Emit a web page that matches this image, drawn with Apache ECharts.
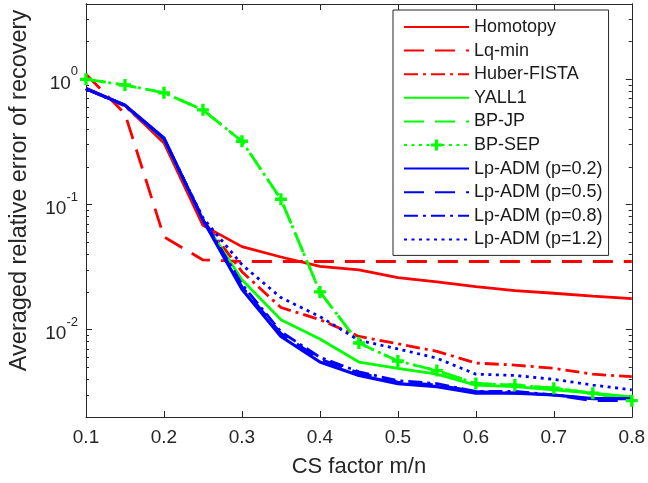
<!DOCTYPE html>
<html>
<head>
<meta charset="utf-8">
<script src="https://cdn.jsdelivr.net/npm/echarts@6/dist/echarts.min.js"></script>
<style>
  html, body { margin: 0; padding: 0; background: #fff; }
  #chart { width: 648px; height: 483px; }
</style>
</head>
<body>
<div id="chart"></div>
<script>
// ---- data ----
const xs = [0.1, 0.15, 0.2, 0.25, 0.3, 0.35, 0.4, 0.45, 0.5, 0.55, 0.6, 0.65, 0.7, 0.75, 0.8];
const homotopy = [0.85, 0.62, 0.31, 0.068, 0.046, 0.038, 0.032, 0.030, 0.026, 0.024, 0.022, 0.0205, 0.0195, 0.0185, 0.0177];
const lqMin    = [1.1, 0.53, 0.055, 0.036, 0.035, 0.035, 0.035, 0.035, 0.035, 0.035, 0.035, 0.035, 0.035, 0.035, 0.035];
const huber    = [0.84, 0.61, 0.32, 0.075, 0.029, 0.015, 0.012, 0.0088, 0.0077, 0.0067, 0.0054, 0.0052, 0.0049, 0.0044, 0.0042];
const yall1    = [0.84, 0.62, 0.33, 0.075, 0.025, 0.012, 0.0084, 0.0055, 0.0049, 0.0044, 0.0036, 0.0035, 0.0033, 0.0031, 0.0029];
const bpJP     = [1.0, 0.90, 0.78, 0.57, 0.32, 0.11, 0.020, 0.0078, 0.0056, 0.0047, 0.0037, 0.0036, 0.0034, 0.0031, 0.0027];
const bpSEP    = [1.0, 0.90, 0.78, 0.57, 0.32, 0.11, 0.020, 0.0078, 0.0056, 0.0047, 0.0037, 0.0036, 0.0034, 0.0031, 0.0027];
const lp02     = [0.84, 0.62, 0.34, 0.075, 0.021, 0.0088, 0.0055, 0.0043, 0.0037, 0.0035, 0.0031, 0.0031, 0.0030, 0.0028, 0.0028];
const lp05     = [0.84, 0.62, 0.335, 0.076, 0.022, 0.0093, 0.0058, 0.0045, 0.0038, 0.0036, 0.0032, 0.0031, 0.0030, 0.0027, 0.0027];
const lp08     = [0.84, 0.62, 0.335, 0.077, 0.023, 0.0096, 0.0060, 0.0046, 0.0039, 0.0037, 0.0032, 0.0032, 0.0030, 0.0028, 0.0028];
const lp12     = [0.84, 0.62, 0.335, 0.078, 0.033, 0.018, 0.0127, 0.0082, 0.0070, 0.0059, 0.0044, 0.0043, 0.0040, 0.0036, 0.0033];
const xTicks = [0.1, 0.2, 0.3, 0.4, 0.5, 0.6, 0.7, 0.8];
const yDecades = [-2, -1, 0];          // 10^-2, 10^-1, 10^0
const yMinVal = 0.002, yMaxVal = 4;

// ---- helpers ----
const AX = '#262626';
const FONT = 'Liberation Sans, Arial, sans-serif';
const lg = Math.log10;
const yMin = lg(yMinVal), yMax = lg(yMaxVal);
const minorTicks = [];
for (let d = -3; d <= 0; d++) {
  for (let k = 2; k <= 9; k++) {
    const v = d + lg(k);
    if (v > yMin + 1e-6 && v < yMax - 1e-6) minorTicks.push(v);
  }
}
const pts = arr => xs.map((x, i) => [x, lg(arr[i])]);
const plusPath = 'path://M3.6,0h2.8v3.6h3.6v2.8h-3.6v3.6h-2.8v-3.6h-3.6v-2.8h3.6z';

function line(name, arr, color, dash, extra) {
  return Object.assign({
    name: name,
    type: 'line',
    data: pts(arr),
    symbol: 'none',
    showSymbol: false,
    animation: false,
    silent: true,
    lineStyle: { color: color, width: 2.8, type: dash, cap: 'butt' },
    itemStyle: { color: color },
    clip: true
  }, extra || {});
}

const series = [
  line('Homotopy', homotopy, '#ff0000', 'solid'),
  line('Lq-min', lqMin, '#ff0000', [20, 11]),
  line('Huber-FISTA', huber, '#ff0000', [14, 5, 3, 5]),
  line('YALL1', yall1, '#00ff00', 'solid'),
  line('BP-JP', bpJP, '#00ff00', [20, 11]),
  line('BP-SEP', bpSEP, '#00ff00', [3, 4.5], {
    symbol: plusPath, showSymbol: true, symbolSize: 12,
    itemStyle: { color: '#00ff00', borderWidth: 0 }
  }),
  line('Lp-ADM (p=0.2)', lp02, '#0000ff', 'solid', { lineStyle: { color: '#0000ff', width: 3.2, type: 'solid' } }),
  line('Lp-ADM (p=0.5)', lp05, '#0000ff', [20, 11]),
  line('Lp-ADM (p=0.8)', lp08, '#0000ff', [14, 5, 3, 5]),
  line('Lp-ADM (p=1.2)', lp12, '#0000ff', [3, 4.5])
];

const legendData = series.map(s => (s.name === 'BP-SEP')
  ? { name: s.name }
  : { name: s.name, itemStyle: { opacity: 0 } });

const baseY = {
  type: 'value', min: yMin, max: yMax, gridIndex: 0,
  splitLine: { show: false },
  axisLine: { show: true, lineStyle: { color: AX, width: 1 } }
};

const option = {
  backgroundColor: '#ffffff',
  animation: false,
  grid: { left: 78, right: 15, top: 4, bottom: 62, containLabel: false },
  legend: {
    orient: 'vertical',
    left: 393, top: 10,
    padding: [8, 6, 7, 10],
    itemWidth: 65, itemHeight: 14, itemGap: 5.6,
    backgroundColor: '#ffffff',
    borderColor: AX, borderWidth: 1, borderRadius: 0,
    textStyle: { fontFamily: FONT, fontSize: 18, color: '#1a1a1a' },
    data: legendData,
    selectedMode: false
  },
  xAxis: [
    {
      type: 'value', min: 0.1, max: 0.8, interval: 0.1,
      name: 'CS factor m/n', nameLocation: 'middle', nameGap: 39,
      nameTextStyle: { fontFamily: FONT, fontSize: 22, color: AX },
      axisLine: { show: true, onZero: false, lineStyle: { color: AX, width: 1 } },
      axisTick: { show: true, inside: true, length: 6, lineStyle: { color: AX } },
      axisLabel: {
        margin: 11, fontFamily: FONT, fontSize: 19, color: AX,
        customValues: xTicks, formatter: v => Number(v).toFixed(1)
      },
      splitLine: { show: false }
    },
    {
      type: 'value', min: 0.1, max: 0.8, interval: 0.1, position: 'top',
      axisLine: { show: true, onZero: false, lineStyle: { color: AX, width: 1 } },
      axisTick: { show: true, inside: true, length: 6, lineStyle: { color: AX } },
      axisLabel: { show: false },
      splitLine: { show: false }
    }
  ],
  yAxis: [
    Object.assign({}, baseY, {
      position: 'left',
      name: 'Averaged relative error of recovery', nameLocation: 'middle', nameGap: 54, nameRotate: 90,
      nameTextStyle: { fontFamily: FONT, fontSize: 23.5, color: AX, padding: [0, 0, 0, 40] },
      axisTick: { show: true, inside: true, length: 6, lineStyle: { color: AX }, customValues: yDecades },
      axisLabel: {
        show: true, margin: 8, customValues: yDecades,
        formatter: v => '{b|10}{s|' + Math.round(v) + '}',
        rich: {
          b: { fontFamily: FONT, fontSize: 19, color: AX, lineHeight: 28, verticalAlign: 'bottom' },
          s: { fontFamily: FONT, fontSize: 13, color: AX, lineHeight: 28, verticalAlign: 'top' }
        }
      }
    }),
    Object.assign({}, baseY, {
      position: 'left',
      axisTick: { show: true, inside: true, length: 3, lineStyle: { color: AX }, customValues: minorTicks },
      axisLabel: { show: false }
    }),
    Object.assign({}, baseY, {
      position: 'right',
      axisTick: { show: true, inside: true, length: 6, lineStyle: { color: AX }, customValues: yDecades },
      axisLabel: { show: false }
    }),
    Object.assign({}, baseY, {
      position: 'right',
      axisTick: { show: true, inside: true, length: 3, lineStyle: { color: AX }, customValues: minorTicks },
      axisLabel: { show: false }
    })
  ],
  series: series
};

const chart = echarts.init(document.getElementById('chart'), null, { renderer: 'canvas' });
chart.setOption(option);
</script>
</body>
</html>
